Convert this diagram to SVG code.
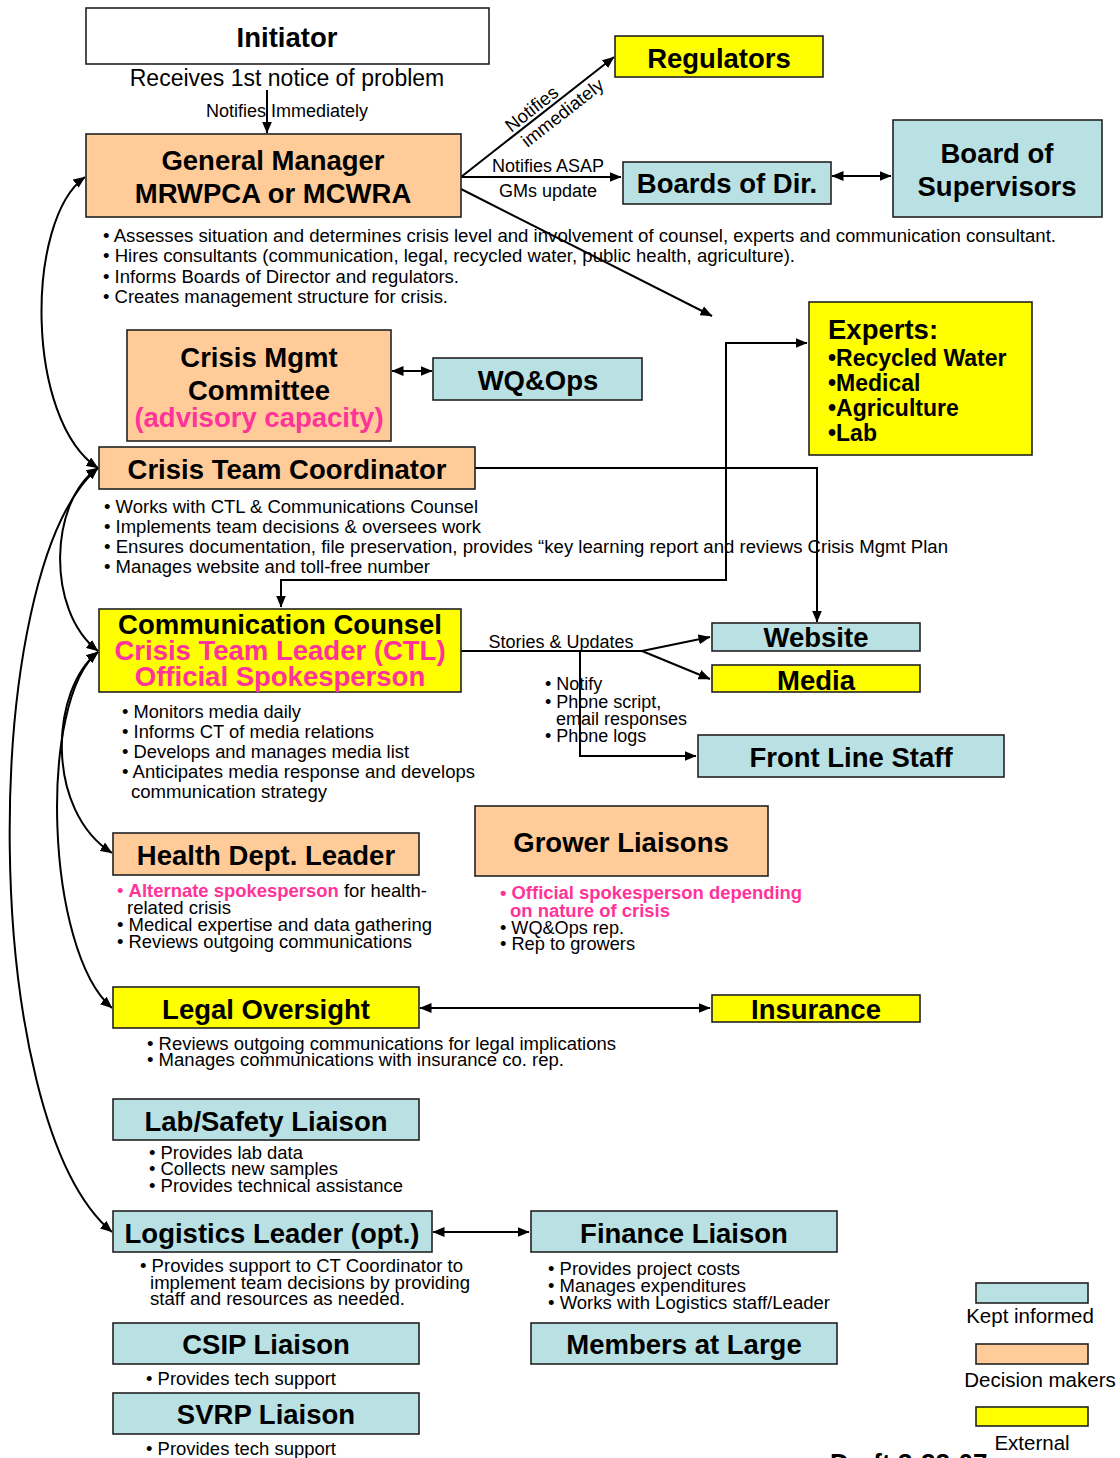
<svg xmlns="http://www.w3.org/2000/svg" width="1120" height="1458" viewBox="0 0 1120 1458">
<style>
text{font-family:"Liberation Sans",Arial,sans-serif;fill:#000}
.box{stroke:#222;stroke-width:1.6}
.w{fill:#fff}.p{fill:#FFCC99}.b{fill:#B9E0E2}.y{fill:#FFFF00}
.t{font-weight:bold;font-size:27.5px;text-anchor:middle}
.pk{fill:#FF3399}
.s{font-size:17.5px}
.s2{font-size:18.5px}
.lab{font-size:18px}
.c{fill:none;stroke:#000;stroke-width:2}
</style>
<defs>
<marker id="ah" viewBox="0 0 12 10" refX="11.5" refY="5" markerWidth="12" markerHeight="10" markerUnits="userSpaceOnUse" orient="auto-start-reverse">
<path d="M0,0 L12,5 L0,10 z" fill="#000"/>
</marker>
</defs>

<g id="connectors">
<line class="c" x1="267" y1="90" x2="267" y2="133" marker-end="url(#ah)"/>
<line class="c" x1="461" y1="177" x2="614" y2="57" marker-end="url(#ah)"/>
<line class="c" x1="461" y1="177" x2="621" y2="177" marker-end="url(#ah)"/>
<line class="c" x1="461" y1="189" x2="712" y2="316" marker-end="url(#ah)"/>
<line class="c" x1="832" y1="176" x2="891" y2="176" marker-start="url(#ah)" marker-end="url(#ah)"/>
<line class="c" x1="392" y1="371" x2="432" y2="371" marker-start="url(#ah)" marker-end="url(#ah)"/>
<polyline class="c" points="281,607 281,580 726,580 726,343 807,343" marker-start="url(#ah)" marker-end="url(#ah)"/>
<polyline class="c" points="475,468 817,468 817,622" marker-end="url(#ah)"/>
<line class="c" x1="461" y1="651" x2="642" y2="651"/>
<line class="c" x1="642" y1="651" x2="710" y2="637" marker-end="url(#ah)"/>
<line class="c" x1="642" y1="651" x2="710" y2="679" marker-end="url(#ah)"/>
<polyline class="c" points="580,651 580,756 696,756" marker-end="url(#ah)"/>
<line class="c" x1="420" y1="1008" x2="710" y2="1008" marker-start="url(#ah)" marker-end="url(#ah)"/>
<line class="c" x1="433" y1="1232" x2="529" y2="1232" marker-start="url(#ah)" marker-end="url(#ah)"/>
<path class="c" d="M85,177 C25,220 25,420 98,468" marker-start="url(#ah)" marker-end="url(#ah)"/>
<path class="c" d="M98,468 C50,500 45,610 98,651" marker-start="url(#ah)" marker-end="url(#ah)"/>
<path class="c" d="M98,468 C-22,570 -22,1120 112,1232" marker-start="url(#ah)" marker-end="url(#ah)"/>
<path class="c" d="M98,652 C50,690 45,810 112,853" marker-start="url(#ah)" marker-end="url(#ah)"/>
<path class="c" d="M98,652 C38,700 45,950 112,1008" marker-start="url(#ah)" marker-end="url(#ah)"/>
</g>

<g id="edge-labels">
<text class="lab" x="287" y="117" text-anchor="middle">Notifies Immediately</text>
<g transform="translate(545,111.5) rotate(-38)">
<text class="lab" x="-9" y="-4" text-anchor="middle" style="font-size:18.5px">Notifies</text>
<text class="lab" x="13" y="18" text-anchor="middle" style="font-size:18.5px">immediately</text>
</g>
<text class="lab" x="548" y="172" text-anchor="middle">Notifies ASAP</text>
<text class="lab" x="548" y="197" text-anchor="middle">GMs update</text>
<text class="lab" x="561" y="648" text-anchor="middle">Stories &amp; Updates</text>
<text class="lab" x="545" y="690">• Notify</text>
<text class="lab" x="545" y="708">• Phone script,</text>
<text class="lab" x="556" y="725">email responses</text>
<text class="lab" x="545" y="742">• Phone logs</text>
</g>

<g id="initiator">
<rect class="box w" x="86" y="8" width="403" height="56"/>
<text class="t" x="287" y="47">Initiator</text>
<text x="287" y="86" text-anchor="middle" style="font-size:23px">Receives 1st notice of problem</text>
</g>

<g id="general-manager">
<rect class="box p" x="86" y="134" width="375" height="83"/>
<text class="t" x="273" y="170">General Manager</text>
<text class="t" x="273" y="203">MRWPCA or MCWRA</text>
<text class="s" x="103" y="242" textLength="953" lengthAdjust="spacingAndGlyphs">• Assesses situation and determines crisis level and involvement of counsel, experts and communication consultant.</text>
<text class="s" x="103" y="262" textLength="692" lengthAdjust="spacingAndGlyphs">• Hires consultants (communication, legal, recycled water, public health, agriculture).</text>
<text class="s" x="103" y="283" textLength="356" lengthAdjust="spacingAndGlyphs">• Informs Boards of Director and regulators.</text>
<text class="s" x="103" y="303" textLength="345" lengthAdjust="spacingAndGlyphs">• Creates management structure for crisis.</text>
</g>

<g id="regulators">
<rect class="box y" x="615" y="36" width="208" height="41"/>
<text class="t" x="719" y="68">Regulators</text>
</g>

<g id="boards-of-dir">
<rect class="box b" x="623" y="162" width="208" height="42"/>
<text class="t" x="727" y="193">Boards of Dir.</text>
</g>

<g id="board-of-supervisors">
<rect class="box b" x="893" y="120" width="209" height="97"/>
<text class="t" x="997" y="163">Board of</text>
<text class="t" x="997" y="196">Supervisors</text>
</g>

<g id="crisis-mgmt-committee">
<rect class="box p" x="127" y="330" width="264" height="111"/>
<text class="t" x="259" y="367">Crisis Mgmt</text>
<text class="t" x="259" y="400">Committee</text>
<text class="t pk" x="259" y="427">(advisory capacity)</text>
</g>

<g id="wq-ops">
<rect class="box b" x="433" y="358" width="209" height="42"/>
<text class="t" x="538" y="390">WQ&amp;Ops</text>
</g>

<g id="experts">
<rect class="box y" x="809" y="302" width="223" height="153"/>
<text x="828" y="339" style="font-weight:bold;font-size:27.5px">Experts:</text>
<text x="828" y="366" style="font-weight:bold;font-size:23px">•Recycled Water</text>
<text x="828" y="391" style="font-weight:bold;font-size:23px">•Medical</text>
<text x="828" y="416" style="font-weight:bold;font-size:23px">•Agriculture</text>
<text x="828" y="441" style="font-weight:bold;font-size:23px">•Lab</text>
</g>

<g id="crisis-team-coordinator">
<rect class="box p" x="99" y="447" width="376" height="42"/>
<text class="t" x="287" y="479">Crisis Team Coordinator</text>
<text class="s" x="104" y="513" textLength="374" lengthAdjust="spacingAndGlyphs">• Works with CTL &amp; Communications Counsel</text>
<text class="s" x="104" y="533" textLength="377" lengthAdjust="spacingAndGlyphs">• Implements team decisions &amp; oversees work</text>
<text class="s" x="104" y="553" textLength="844" lengthAdjust="spacingAndGlyphs">• Ensures documentation, file preservation, provides “key learning report and reviews Crisis Mgmt Plan</text>
<text class="s" x="104" y="573" textLength="326" lengthAdjust="spacingAndGlyphs">• Manages website and toll-free number</text>
</g>

<g id="communication-counsel">
<rect class="box y" x="99" y="609" width="362" height="83"/>
<text class="t" x="280" y="634">Communication Counsel</text>
<text class="t pk" x="280" y="660">Crisis Team Leader (CTL)</text>
<text class="t pk" x="280" y="686">Official Spokesperson</text>
<text class="s" x="122" y="718" textLength="179" lengthAdjust="spacingAndGlyphs">• Monitors media daily</text>
<text class="s" x="122" y="738" textLength="252" lengthAdjust="spacingAndGlyphs">• Informs CT of media relations</text>
<text class="s" x="122" y="758" textLength="287" lengthAdjust="spacingAndGlyphs">• Develops and manages media list</text>
<text class="s" x="122" y="778" textLength="353" lengthAdjust="spacingAndGlyphs">• Anticipates media response and develops</text>
<text class="s" x="131" y="798" textLength="196" lengthAdjust="spacingAndGlyphs">communication strategy</text>
</g>

<g id="website">
<rect class="box b" x="712" y="623" width="208" height="28"/>
<text class="t" x="816" y="647">Website</text>
</g>

<g id="media">
<rect class="box y" x="712" y="665" width="208" height="27"/>
<text class="t" x="816" y="690">Media</text>
</g>

<g id="front-line-staff">
<rect class="box b" x="698" y="735" width="306" height="42"/>
<text class="t" x="851" y="767">Front Line Staff</text>
</g>

<g id="health-dept-leader">
<rect class="box p" x="113" y="833" width="306" height="42"/>
<text class="t" x="266" y="865">Health Dept. Leader</text>
<text class="s2" x="117" y="897" textLength="310" lengthAdjust="spacingAndGlyphs"><tspan class="pk">• </tspan><tspan class="pk" font-weight="bold">Alternate spokesperson</tspan> for health-</text>
<text class="s2" x="127" y="914" textLength="104" lengthAdjust="spacingAndGlyphs">related crisis</text>
<text class="s" x="117" y="931" textLength="315" lengthAdjust="spacingAndGlyphs">• Medical expertise and data gathering</text>
<text class="s" x="117" y="948" textLength="295" lengthAdjust="spacingAndGlyphs">• Reviews outgoing communications</text>
</g>

<g id="grower-liaisons">
<rect class="box p" x="475" y="806" width="293" height="70"/>
<text class="t" x="621" y="852">Grower Liaisons</text>
<text class="s pk" x="500" y="899" font-weight="bold" textLength="302" lengthAdjust="spacingAndGlyphs">• Official spokesperson depending</text>
<text class="s pk" x="510" y="917" font-weight="bold" textLength="160" lengthAdjust="spacingAndGlyphs">on nature of crisis</text>
<text class="s2" x="500" y="934" textLength="124" lengthAdjust="spacingAndGlyphs">• WQ&amp;Ops rep.</text>
<text class="s2" x="500" y="950" textLength="135" lengthAdjust="spacingAndGlyphs">• Rep to growers</text>
</g>

<g id="legal-oversight">
<rect class="box y" x="113" y="987" width="306" height="41"/>
<text class="t" x="266" y="1019">Legal Oversight</text>
<text class="s" x="147" y="1050" textLength="469" lengthAdjust="spacingAndGlyphs">• Reviews outgoing communications for legal implications</text>
<text class="s" x="147" y="1066" textLength="417" lengthAdjust="spacingAndGlyphs">• Manages communications with insurance co. rep.</text>
</g>

<g id="insurance">
<rect class="box y" x="712" y="995" width="208" height="27"/>
<text class="t" x="816" y="1019">Insurance</text>
</g>

<g id="lab-safety-liaison">
<rect class="box b" x="113" y="1099" width="306" height="41"/>
<text class="t" x="266" y="1131">Lab/Safety Liaison</text>
<text class="s" x="149" y="1159" textLength="154" lengthAdjust="spacingAndGlyphs">• Provides lab data</text>
<text class="s" x="149" y="1175" textLength="189" lengthAdjust="spacingAndGlyphs">• Collects new samples</text>
<text class="s" x="149" y="1192" textLength="254" lengthAdjust="spacingAndGlyphs">• Provides technical assistance</text>
</g>

<g id="logistics-leader">
<rect class="box b" x="113" y="1211" width="319" height="41"/>
<text class="t" x="272" y="1243">Logistics Leader (opt.)</text>
<text class="s" x="140" y="1272" textLength="323" lengthAdjust="spacingAndGlyphs">• Provides support to CT Coordinator to</text>
<text class="s" x="150" y="1289" textLength="320" lengthAdjust="spacingAndGlyphs">implement team decisions by providing</text>
<text class="s" x="150" y="1305" textLength="255" lengthAdjust="spacingAndGlyphs">staff and resources as needed.</text>
</g>

<g id="finance-liaison">
<rect class="box b" x="531" y="1211" width="306" height="41"/>
<text class="t" x="684" y="1243">Finance Liaison</text>
<text class="s" x="548" y="1275" textLength="192" lengthAdjust="spacingAndGlyphs">• Provides project costs</text>
<text class="s" x="548" y="1292" textLength="198" lengthAdjust="spacingAndGlyphs">• Manages expenditures</text>
<text class="s" x="548" y="1309" textLength="282" lengthAdjust="spacingAndGlyphs">• Works with Logistics staff/Leader</text>
</g>

<g id="csip-liaison">
<rect class="box b" x="113" y="1323" width="306" height="41"/>
<text class="t" x="266" y="1354">CSIP Liaison</text>
<text class="s" x="146" y="1385" textLength="190" lengthAdjust="spacingAndGlyphs">• Provides tech support</text>
</g>

<g id="members-at-large">
<rect class="box b" x="531" y="1323" width="306" height="41"/>
<text class="t" x="684" y="1354">Members at Large</text>
</g>

<g id="svrp-liaison">
<rect class="box b" x="113" y="1393" width="306" height="41"/>
<text class="t" x="266" y="1424">SVRP Liaison</text>
<text class="s" x="146" y="1455" textLength="190" lengthAdjust="spacingAndGlyphs">• Provides tech support</text>
</g>

<g id="legend">
<rect class="box b" x="976" y="1283" width="112" height="20"/>
<text x="1030" y="1323" text-anchor="middle" style="font-size:20.5px">Kept informed</text>
<rect class="box p" x="976" y="1344" width="112" height="20"/>
<text x="1040" y="1387" text-anchor="middle" style="font-size:20.5px">Decision makers</text>
<rect class="box y" x="976" y="1407" width="112" height="19"/>
<text x="1032" y="1450" text-anchor="middle" style="font-size:20.5px">External</text>
<text x="830" y="1472" style="font-weight:bold;font-size:26px">Draft 3-22-07</text>
</g>
</svg>
